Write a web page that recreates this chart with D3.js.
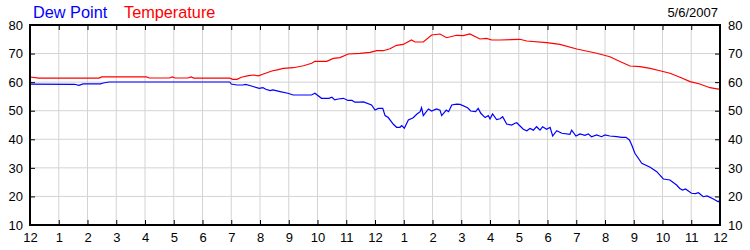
<!DOCTYPE html>
<html>
<head>
<meta charset="utf-8">
<script src="https://cdn.jsdelivr.net/npm/d3@7"></script>
<style>
  body { margin: 0; background: #fff; }
  svg { display: block; font-family: Arial, "Liberation Sans", sans-serif; }
  .grid line { stroke: #d3d3d3; stroke-width: 1; }
  .axis text { font-size: 13px; fill: #000; }
  .axis line { stroke: #000; }
  .axis path { display: none; }
</style>
</head>
<body>
<svg width="750" height="250"></svg>
<script>
// hours after midnight, 5/6/2007
const tempHours = [0, 0.3, 2.4, 2.5, 4.05, 4.15, 4.85, 4.95, 5.05, 5.5, 5.6, 5.7, 6.95, 7.05, 7.2, 7.35,
    7.6, 7.77, 7.94, 8.12, 8.41, 8.6, 8.81, 9.16, 9.51, 9.8, 9.91, 10.32, 10.55, 10.78, 11.07, 11.48,
    11.83, 12.06, 12.29, 12.52, 12.75, 12.98, 13.27, 13.39, 13.68, 13.97, 14.26, 14.49, 14.84, 15.07,
    15.3, 15.65, 15.88, 16.06, 16.35, 17.04, 17.28, 17.97, 18.43, 19.02, 19.71, 20.17, 20.52, 20.87,
    21.22, 21.57, 21.91, 22.26, 22.61, 22.96, 23.3, 23.65, 24];
const tempValues = [61.8, 61.4, 61.4, 61.85, 61.85, 61.45, 61.45, 61.85, 61.45, 61.45, 61.8, 61.4, 61.4, 61.0, 61.0, 61.7,
    62.3, 62.5, 62.2, 62.85, 63.9, 64.3, 64.8, 65.05, 65.75, 66.6, 67.3, 67.3, 68.3, 68.6, 69.85, 70.1,
    70.45, 71.0, 71.0, 71.7, 72.9, 73.2, 74.75, 74.05, 74.05, 76.5, 76.85, 75.55, 76.4, 76.3,
    76.85, 75.1, 75.3, 74.75, 74.75, 75.0, 74.4, 73.8, 73.2, 71.6, 70.1, 68.9, 67.2, 65.65,
    65.4, 64.8, 64.0, 63.1, 61.7, 60.2, 59.35, 58.05, 57.5];

const dewHours = [0, 1.55, 1.7, 1.85, 2.45, 2.55, 2.75, 6.95, 7.0, 7.2, 7.4, 7.5, 7.7, 7.97, 8.1, 8.2,
    8.35, 8.45, 8.7, 8.97, 9.15, 9.79, 9.91, 10.14, 10.4, 10.5, 10.6, 10.72, 10.9, 11.06, 11.2, 11.3,
    11.48, 11.6, 11.88, 12.0, 12.12, 12.27, 12.35, 12.46, 12.64, 12.75, 12.87, 12.93, 13.02, 13.16,
    13.33, 13.45, 13.57, 13.62, 13.68, 13.86, 13.97, 14.14, 14.26, 14.32, 14.48, 14.56, 14.67, 14.84,
    14.96, 15.22, 15.33, 15.5, 15.59, 15.68, 15.83, 15.94, 16.0, 16.09, 16.23, 16.35, 16.44, 16.58,
    16.75, 16.87, 16.93, 17.16, 17.28, 17.39, 17.51, 17.62, 17.74, 17.83, 17.97, 18.09, 18.18, 18.32,
    18.5, 18.78, 18.84, 18.99, 19.13, 19.3, 19.42, 19.53, 19.71, 19.88, 20.0, 20.17, 20.41, 20.58,
    20.73, 20.85, 20.93, 21.04, 21.28, 21.57, 21.8, 22.03, 22.26, 22.49, 22.6, 22.7, 22.8, 23.01,
    23.15, 23.25, 23.42, 23.55, 23.77, 23.94, 24];
const dewValues = [59.3, 59.25, 58.9, 59.4, 59.4, 59.7, 60.05, 60.05, 59.35, 59.0, 59.0, 59.2, 58.65, 57.8, 58.1, 57.5,
    57.05, 57.3, 56.7, 56.1, 55.5, 55.5, 56.1, 54.35, 54.35, 54.7, 53.8, 54.1, 54.35, 53.6, 53.6, 53.0,
    53.0, 53.1, 52.0, 50.25, 50.8, 50.8, 48.3, 47.6, 45.25, 44.2, 44.2, 44.8, 43.85, 46.75,
    47.55, 48.75, 49.65, 51.05, 48.3, 50.6, 49.9, 50.6, 50.2, 48.3, 50.2, 49.65, 52.0, 52.3,
    52.2, 51.05, 49.9, 49.65, 50.8, 49.1, 47.6, 48.3, 47.15, 48.85, 46.9, 47.2, 47.9, 45.35,
    45.0, 45.6, 45.8, 43.5, 43.0, 43.8, 43.2, 44.4, 43.2, 44.4, 43.5, 44.2, 41.15, 43.0,
    42.1, 41.75, 43.2, 41.15, 41.9, 41.4, 41.9, 40.9, 41.5, 40.9, 41.5, 41.15, 40.9, 40.7,
    40.7, 39.75, 38.0, 35.1, 31.6, 30.2, 28.65, 26.1, 25.75, 24.0, 22.8, 22.25, 22.6, 21.1,
    21.0, 21.3, 19.9, 20.2, 19.1, 18.15, 18.7];

const hourTicks = d3.range(0, 25);
const hourLabels = ['12', '1', '2', '3', '4', '5', '6', '7', '8', '9', '10', '11',
    '12', '1', '2', '3', '4', '5', '6', '7', '8', '9', '10', '11', '12'];
const valueTicks = [10, 20, 30, 40, 50, 60, 70, 80];
const chartDate = '5/6/2007';

const svg = d3.select('svg'),
    margin = { top: 25, right: 30, bottom: 25, left: 30 },
    width = +svg.attr('width') - margin.left - margin.right,
    height = +svg.attr('height') - margin.top - margin.bottom;

const x = d3.scaleLinear().domain([0, 24]).range([0, width]);
const y = d3.scaleLinear().domain([10, 80]).range([height, 0]);

const g = svg.append('g')
    .attr('transform', 'translate(' + margin.left + ',' + margin.top + ')');

// grid
g.append('g').attr('class', 'grid')
    .selectAll('line.v').data(hourTicks).enter().append('line')
    .attr('x1', d => x(d)).attr('x2', d => x(d))
    .attr('y1', 0).attr('y2', height);
g.select('.grid')
    .selectAll('line.h').data(valueTicks).enter().append('line')
    .attr('x1', 0).attr('x2', width)
    .attr('y1', d => y(d)).attr('y2', d => y(d));

// lines
const line = d3.line().x(d => x(d[0])).y(d => y(d[1]));
const tempData = tempHours.map((h, i) => [h, tempValues[i]]);
const dewData = dewHours.map((h, i) => [h, dewValues[i]]);

g.append('path').datum(tempData)
    .attr('d', line).attr('fill', 'none')
    .attr('stroke', '#ff0000').attr('stroke-width', 1.2);
g.append('path').datum(dewData)
    .attr('d', line).attr('fill', 'none')
    .attr('stroke', '#0000ff').attr('stroke-width', 1.2);

// axes with inward ticks
g.append('g').attr('class', 'axis')
    .attr('transform', 'translate(0,' + height + ')')
    .call(d3.axisBottom(x).tickValues(hourTicks).tickSize(-5).tickPadding(8)
        .tickFormat((d, i) => hourLabels[i]));
g.append('g').attr('class', 'axis')
    .call(d3.axisTop(x).tickValues(hourTicks).tickSize(-5).tickFormat(''));
g.append('g').attr('class', 'axis')
    .call(d3.axisLeft(y).tickValues(valueTicks).tickSize(-5).tickPadding(7));
g.append('g').attr('class', 'axis')
    .attr('transform', 'translate(' + width + ',0)')
    .call(d3.axisRight(y).tickValues(valueTicks).tickSize(-5).tickPadding(8));

// frame
g.append('rect')
    .attr('width', width).attr('height', height)
    .attr('fill', 'none').attr('stroke', '#000').attr('stroke-width', 2);

// legend and date
svg.append('text').text('Dew Point')
    .attr('x', 33).attr('y', 17.5)
    .attr('font-size', '16.3px').attr('fill', '#0000ff');
svg.append('text').text('Temperature')
    .attr('x', 124).attr('y', 17.5)
    .attr('font-size', '16.3px').attr('fill', '#ff0000');
svg.append('text').text(chartDate)
    .attr('x', 718).attr('y', 16.7)
    .attr('text-anchor', 'end')
    .attr('font-size', '13px').attr('fill', '#000');
</script>
</body>
</html>
